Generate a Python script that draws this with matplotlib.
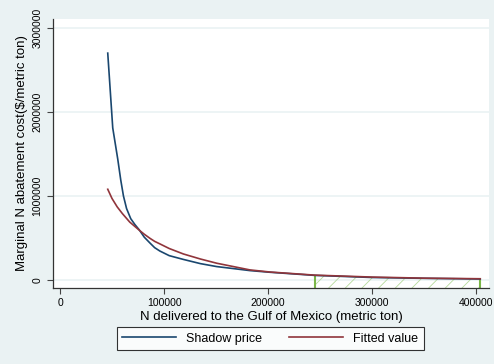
import numpy as np
import matplotlib.pyplot as plt

plt.rcParams['font.family'] = ['Liberation Sans', 'DejaVu Sans']
plt.rcParams['hatch.linewidth'] = 0.6

# shadow price
shadow_x = [45900, 50700, 55500, 58400, 61000, 64000, 68000, 72000, 76000, 81000, 86500,
            91000, 96000, 105000, 118600, 135000, 150600, 182700, 202000, 245000,
            300000, 350000, 404000]
shadow_y = [2.70e6, 1.81e6, 1.44e6, 1.19e6, 1.00e6, 0.85e6, 0.73e6, 0.66e6, 0.60e6, 0.51e6, 0.44e6,
            0.385e6, 0.345e6, 0.29e6, 0.245e6, 0.195e6, 0.16e6, 0.112e6, 0.092e6, 0.055e6,
            0.030e6, 0.020e6, 0.012e6]

# fitted value
fit_x = [45900, 50000, 55000, 60000, 67000, 76000, 81000, 86500, 91000, 96000, 105000,
         118600, 135000, 150600, 182700, 202000, 245000, 300000, 350000, 404000]
fit_y = [1.08e6, 0.97e6, 0.87e6, 0.79e6, 0.69e6, 0.595e6, 0.545e6, 0.496e6, 0.46e6, 0.43e6, 0.375e6,
         0.31e6, 0.25e6, 0.20e6, 0.12e6, 0.095e6, 0.058e6, 0.035e6, 0.022e6, 0.015e6]

shade_lo, shade_hi = 245000, 404000

xticks = [0, 100000, 200000, 300000, 400000]
yticks = [0, 1000000, 2000000, 3000000]

bg = '#eaf2f3'
navy = '#1a476f'
maroon = '#90353b'
green = '#7ab648'

fig = plt.figure(figsize=(4.94, 3.64), dpi=100, facecolor=bg)
ax = fig.add_axes([0.1073, 0.2088, 0.8827, 0.7392])
ax.set_facecolor('white')

ax.set_xlim(-6730, 412500)
ax.set_ylim(-0.095e6, 3.107e6)

for yt in yticks:
    ax.axhline(yt, color=bg, lw=1.2, zorder=0)

ybot = ax.get_ylim()[0]
fx = np.array(fit_x, dtype=float)
fy = np.array(fit_y, dtype=float)
m = (fx >= shade_lo) & (fx <= shade_hi)
ax.fill_between(fx[m], ybot, fy[m], facecolor='none', edgecolor='#b5d99c',
                hatch='//', lw=0, zorder=1)
ax.vlines([shade_lo, shade_hi], ybot,
          [np.interp(shade_lo, fx, fy), np.interp(shade_hi, fx, fy)],
          color=green, lw=1.5, zorder=2)

ax.plot(shadow_x, shadow_y, color=navy, lw=1.2, label='Shadow price', zorder=3)
ax.plot(fit_x, fit_y, color=maroon, lw=1.2, label='Fitted value', zorder=3)

ax.set_xticks(xticks)
ax.set_xticklabels([str(v) for v in xticks], fontsize=7.5)
ax.set_yticks(yticks)
ax.set_yticklabels([str(v) for v in yticks], fontsize=7.5, rotation=90, va='center')
ax.tick_params(direction='out', length=4, width=0.8, colors='#444444', labelcolor='black')

for s in ['top', 'right']:
    ax.spines[s].set_visible(False)
for s in ['left', 'bottom']:
    ax.spines[s].set_color('#333333')
    ax.spines[s].set_linewidth(0.9)

ax.set_xlabel('N delivered to the Gulf of Mexico (metric ton)', fontsize=9.5, labelpad=2)
ax.set_ylabel('Marginal N abatement cost($/metric ton)', fontsize=9.5, labelpad=3)

leg = fig.legend(loc='center', bbox_to_anchor=(0.547, 0.07), ncol=2, fontsize=9,
                 frameon=True, fancybox=False, edgecolor='black', handlelength=4.3,
                 columnspacing=2.2, borderpad=0.45)
leg.get_frame().set_linewidth(0.8)

fig.savefig('out.png', dpi=100, facecolor=bg)
